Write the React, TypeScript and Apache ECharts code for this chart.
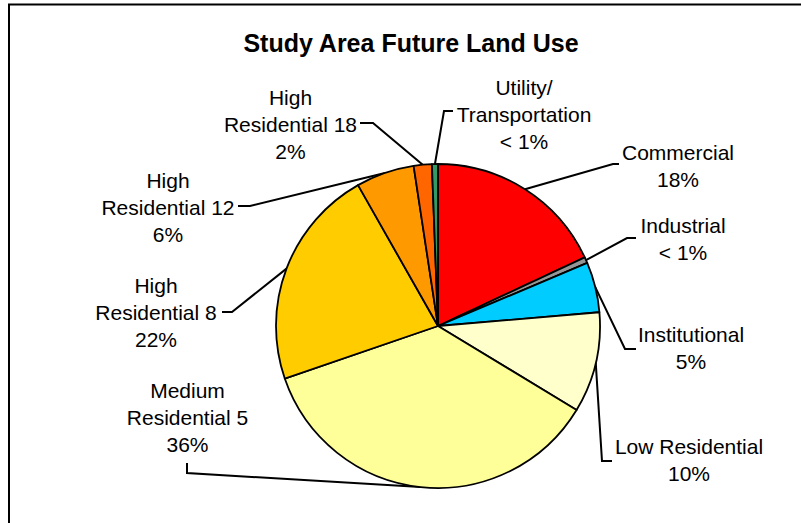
import React, { useEffect, useRef } from "react";
import * as echarts from "echarts";

const TITLE = "Study Area Future Land Use";
const categories = [
  "Commercial",
  "Industrial",
  "Institutional",
  "Low Residential",
  "Medium\nResidential 5",
  "High\nResidential 8",
  "High\nResidential 12",
  "High\nResidential 18",
  "Utility/\nTransportation",
];
const values = [18, 0.6, 5, 10, 36, 22, 5.8, 1.8, 0.6];
const colors = [
  "#FF0000",
  "#969696",
  "#00CCFF",
  "#FFFFCC",
  "#FFFF99",
  "#FFCC00",
  "#FF9900",
  "#FF6600",
  "#339966",
];

// label placement (styling/layout only)
const labelCenters = [
  [678, 166],
  [683, 239],
  [691, 348],
  [689, 460],
  [187.5, 417],
  [156, 312],
  [168, 207],
  [290.5, 124],
  [524, 114],
];
const labelElbows = [
  [[613, 164], [619, 164]],
  [[627, 238], [636, 238]],
  [[625, 349], [636, 349]],
  [[602, 461], [612, 461]],
  [[187, 473], [187, 463]],
  [[232, 312], [222, 312]],
  [[250, 206], [238, 206]],
  [[373, 123], [360, 123]],
  [[444, 111], [453, 111]],
];

const CX = 438;
const CY = 326;
const R = 162;

export default function App() {
  const ref = useRef<HTMLDivElement>(null);
  useEffect(() => {
    if (!ref.current) return;
    const chart = echarts.init(ref.current, null, { renderer: "svg" });
    const total = values.reduce((a, b) => a + b, 0);
    const edgePoint = (i: number) => {
      let cum = 0;
      for (let k = 0; k < i; k++) cum += values[k];
      const th = ((cum + values[i] / 2) / total) * Math.PI * 2;
      return [CX + R * Math.sin(th), CY - R * Math.cos(th)];
    };
    chart.setOption({
      animation: false,
      backgroundColor: "#ffffff",
      title: {
        text: TITLE,
        left: 406,
        top: 25,
        textAlign: "center",
        textStyle: {
          fontFamily: "Liberation Sans, Arial, sans-serif",
          fontSize: 25,
          fontWeight: "bold",
          color: "#000",
        },
      },
      graphic: [
        {
          type: "rect",
          shape: { x: 9, y: 4.5, width: 1200, height: 1200 },
          style: { fill: "none", stroke: "#000", lineWidth: 2 },
          silent: true,
        },
      ],
      series: [
        {
          type: "pie",
          center: [CX, CY],
          radius: R,
          startAngle: 90,
          clockwise: true,
          avoidLabelOverlap: false,
          emphasis: { disabled: true },
          itemStyle: { borderColor: "#000", borderWidth: 1.8 },
          label: {
            show: true,
            position: "outside",
            fontFamily: "Liberation Sans, Arial, sans-serif",
            fontSize: 21,
            lineHeight: 27,
            color: "#000",
            align: "center",
            formatter: (p: any) =>
              p.name + "\n" + (p.percent < 1 ? "< 1%" : Math.round(p.percent) + "%"),
          },
          labelLine: {
            show: true,
            length: 10,
            length2: 10,
            lineStyle: { color: "#000", width: 2 },
          },
          labelLayout: (params: any) => {
            const i = params.dataIndex;
            const start =
              params.labelLinePoints && params.labelLinePoints[0]
                ? params.labelLinePoints[0]
                : edgePoint(i);
            return {
              x: labelCenters[i][0],
              y: labelCenters[i][1],
              align: "center",
              verticalAlign: "middle",
              labelLinePoints: [start, labelElbows[i][0], labelElbows[i][1]],
            };
          },
          data: categories.map((name, i) => ({
            name,
            value: values[i],
            itemStyle: { color: colors[i] },
          })),
        },
      ],
    });
    return () => chart.dispose();
  }, []);
  return (
    <div
      ref={ref}
      style={{ position: "absolute", left: 0, top: 0, width: 801, height: 523 }}
    />
  );
}
